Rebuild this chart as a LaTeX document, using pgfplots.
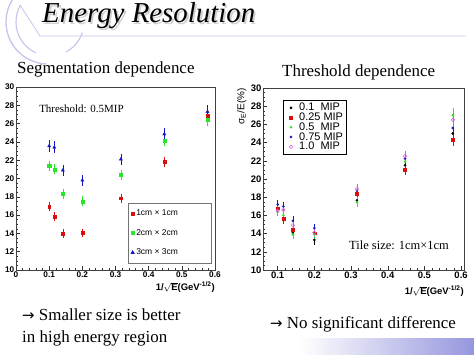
\documentclass[border=0pt]{standalone}
\usepackage{fontspec}
\setmainfont{Liberation Serif}
\newfontfamily\arial{Liberation Sans}
\newfontfamily\arrowfont{DejaVu Sans}
\usepackage{pgfplots}
\usepackage{pgfplotstable}
\pgfplotsset{compat=1.18}

\definecolor{lav}{RGB}{196,196,238}
\definecolor{lavdeep}{RGB}{150,150,222}
\definecolor{rred}{RGB}{215,15,15}
\definecolor{rgreen}{RGB}{40,230,40}
\definecolor{rblue}{RGB}{20,20,200}
\definecolor{rmag}{RGB}{215,90,215}

% Segmentation dependence (threshold 0.5 MIP)
\pgfplotstableread{
x y e
0.1000 16.95 0.40
0.1155 15.80 0.40
0.1414 14.00 0.35
0.2000 14.05 0.35
0.3162 17.85 0.40
0.4472 21.85 0.45
0.5774 26.90 0.55
}\segA
\pgfplotstableread{
x y e
0.1000 21.40 0.45
0.1155 21.00 0.45
0.1414 18.30 0.45
0.2000 17.50 0.45
0.3162 20.40 0.45
0.4472 24.10 0.50
0.5774 26.40 0.55
}\segB
\pgfplotstableread{
x y e
0.1000 23.55 0.55
0.1155 23.40 0.55
0.1414 20.90 0.50
0.2000 19.80 0.50
0.3162 22.10 0.50
0.4472 24.85 0.55
0.5774 27.30 0.65
}\segC
% Threshold dependence (tile 1cm x 1cm)
\pgfplotstableread{
x y e
0.1000 16.70 0.40
0.1155 15.50 0.40
0.1414 14.10 0.40
0.2000 13.30 0.40
0.3162 17.65 0.45
0.4472 21.50 0.50
0.5774 25.00 0.70
}\thA
\pgfplotstableread{
x y e
0.1000 16.80 0.40
0.1155 15.60 0.40
0.1414 14.40 0.40
0.2000 14.05 0.40
0.3162 18.40 0.45
0.4472 21.05 0.50
0.5774 24.30 0.60
}\thB
\pgfplotstableread{
x y e
0.1000 16.40 0.40
0.1155 16.00 0.40
0.1414 13.90 0.40
0.2000 13.90 0.40
0.3162 17.45 0.45
0.4472 21.90 0.50
0.5774 27.00 0.70
}\thC
\pgfplotstableread{
x y e
0.1000 17.20 0.40
0.1155 17.00 0.40
0.1414 15.40 0.40
0.2000 14.60 0.40
0.3162 18.70 0.45
0.4472 22.25 0.50
0.5774 25.60 0.70
}\thD
\pgfplotstableread{
x y e
0.1000 16.50 0.40
0.1155 16.60 0.40
0.1414 14.90 0.40
0.2000 14.10 0.40
0.3162 18.90 0.45
0.4472 22.50 0.50
0.5774 26.50 0.70
}\thE

\pgfplotsset{
  rootaxis/.style={
    scale only axis,
    axis line style={black!75, line width=0.5pt},
    tick align=inside, xtick pos=bottom, ytick pos=left,
    major tick length=4bp, minor tick length=2bp,
    every tick/.style={black!80, line width=0.4pt},
    ymin=10, ymax=30, ytick={10,12,14,16,18,20,22,24,26,28,30},
    minor y tick num=3, minor x tick num=4,
    /pgf/number format/assume math mode=true,
    yticklabel style={inner sep=1.5bp},
    xticklabel style={inner sep=1.5bp},
    legend cell align=left,
    clip=false,
  },
  ebar/.style={
    only marks,
    error bars/y dir=both, error bars/y explicit,
    error bars/error bar style={line width=0.4pt},
    error bars/error mark options={mark size=0.9bp, line width=0.4pt},
  },
}

\begin{document}
\begin{tikzpicture}
\path[use as bounding box, fill=white] (0,0) rectangle (474bp,355bp);

% slide decorations
\draw[lav, line width=1.3bp] (48bp,333bp) ++(140:42bp) arc[start angle=140, end angle=268, radius=42bp];
\draw[lav, line width=1.1bp] (50bp,333bp) ++(150:34bp) arc[start angle=150, end angle=245, radius=34bp];
\draw[lav, line width=1.1bp] (50bp,333bp) ++(-62:34bp) arc[start angle=-62, end angle=-18, radius=34bp];
\draw[lav, line width=0.8bp] (20bp,350bp) -- (40bp,319bp) -- (466bp,319bp);
\shade[left color=white, right color=lavdeep] (300bp,0bp) rectangle (474bp,16bp);

% title with shadow (one node)
\node[anchor=base west, inner sep=0, font=\fontsize{29}{32}\selectfont\itshape] at (42bp,332bp)
  {\rlap{\hspace{1.8bp}\raisebox{-1.8bp}{\color{black!18}Energy Resolution}}Energy Resolution};

% panel titles
\node[anchor=base west, inner sep=0, font=\fontsize{17}{19}\selectfont] at (17bp,281bp) {Segmentation dependence};
\node[anchor=base west, inner sep=0, font=\fontsize{17}{19}\selectfont] at (282bp,278bp) {Threshold dependence};

% bottom remarks
\node[anchor=base west, inner sep=0, font=\fontsize{17}{19}\selectfont] at (22bp,35bp) {{\arrowfont\fontsize{15}{17}\selectfont →} Smaller size is better};
\node[anchor=base west, inner sep=0, font=\fontsize{17}{19}\selectfont] at (22bp,13bp) {in high energy region};
\node[anchor=base west, inner sep=0, font=\fontsize{17}{19}\selectfont] at (270bp,27bp) {{\arrowfont\fontsize{15}{17}\selectfont →} No significant difference};

% ---------------- left panel ----------------
\begin{axis}[rootaxis,
  at={(16bp,85bp)}, anchor=south west, width=199bp, height=183bp,
  xmin=0, xmax=0.6, xtick={0,0.1,0.2,0.3,0.4,0.5,0.6},
  tick label style={font=\arial\bfseries\fontsize{8.3}{9}\selectfont},
  xlabel={\arial\bfseries\fontsize{9.5}{10}\selectfont 1/$\sqrt{\mbox{\arial\bfseries E}}$(GeV\textsuperscript{-1/2})},
  xlabel style={at={(rel axis cs:1,0)}, anchor=north east, yshift=-12bp, inner sep=0pt},
  legend style={at={(rel axis cs:0.983,0.035)}, anchor=south east,
    draw=black!55, line width=0.7pt, fill=white,
    font=\arial\fontsize{8.5}{9}\selectfont, row sep=8bp, inner xsep=3bp, inner ysep=5bp},
]
\addplot+[ebar, mark=square*, mark size=1.4bp, color=rred, mark options={fill=rred}] table[x=x,y=y,y error=e] {\segA};
\addlegendentry{\makebox[70bp][l]{1cm × 1cm}}
\addplot+[ebar, mark=square*, mark size=1.6bp, color=rgreen, mark options={fill=rgreen}] table[x=x,y=y,y error=e] {\segB};
\addlegendentry{\makebox[70bp][l]{2cm × 2cm}}
\addplot+[ebar, mark=triangle*, mark size=1.8bp, color=rblue, mark options={fill=rblue}] table[x=x,y=y,y error=e] {\segC};
\addlegendentry{\makebox[70bp][l]{3cm × 3cm}}
\node[anchor=base west, inner sep=0, font=\fontsize{11}{12}\selectfont] at (rel axis cs:0.116,0.863) {Threshold: 0.5MIP};
\end{axis}

% ---------------- right panel ----------------
\begin{axis}[rootaxis,
  at={(263bp,85bp)}, anchor=south west, width=201bp, height=182bp,
  xmin=0.06, xmax=0.608, xtick={0.1,0.2,0.3,0.4,0.5,0.6},
  tick label style={font=\arial\bfseries\fontsize{9.5}{10}\selectfont},
  xlabel={\arial\bfseries\fontsize{9.5}{10}\selectfont 1/$\sqrt{\mbox{\arial\bfseries E}}$(GeV\textsuperscript{-1/2})},
  xlabel style={at={(rel axis cs:1,0)}, anchor=north east, yshift=-16bp, inner sep=0pt},
  ylabel={\arial\fontsize{10}{11}\selectfont σ\textsubscript{E}/E(\%)},
  ylabel style={at={(rel axis cs:-0.082,1)}, anchor=south east, inner sep=0pt},
  legend image code/.code={\path (0cm,0cm) (0.45cm,0cm); \draw[mark repeat=2,mark phase=2] plot coordinates {(0cm,0cm)(0.24cm,0cm)(0.45cm,0cm)};},
  legend style={at={(rel axis cs:0.098,0.934)}, anchor=north west,
    draw=black, line width=0.5pt, fill=white,
    font=\arial\fontsize{11}{11}\selectfont, row sep=-3.4bp, inner xsep=1bp, inner ysep=1bp},
]
\addplot+[ebar, mark=*, mark size=1.1bp, color=black, mark options={fill=black}] table[x=x,y=y,y error=e] {\thA};
\addlegendentry{\makebox[44bp][l]{0.1\ \ MIP}}
\addplot+[ebar, mark=square*, mark size=1.4bp, color=rred, mark options={fill=rred}] table[x=x,y=y,y error=e] {\thB};
\addlegendentry{\makebox[44bp][l]{0.25 MIP}}
\addplot+[ebar, mark=*, mark size=1.1bp, color=rgreen, mark options={fill=rgreen}] table[x=x,y=y,y error=e] {\thC};
\addlegendentry{\makebox[44bp][l]{0.5\ \ MIP}}
\addplot+[ebar, mark=*, mark size=1.1bp, color=rblue, mark options={fill=rblue}] table[x=x,y=y,y error=e] {\thD};
\addlegendentry{\makebox[44bp][l]{0.75 MIP}}
\addplot+[ebar, mark=o, mark size=1.7bp, color=rmag, mark options={line width=0.6pt}] table[x=x,y=y,y error=e] {\thE};
\addlegendentry{\makebox[44bp][l]{1.0\ \ MIP}}
\node[anchor=base west, inner sep=0, font=\fontsize{12.5}{13}\selectfont] at (rel axis cs:0.428,0.11) {Tile size: 1cm×1cm};
\end{axis}
\end{tikzpicture}
\end{document}
